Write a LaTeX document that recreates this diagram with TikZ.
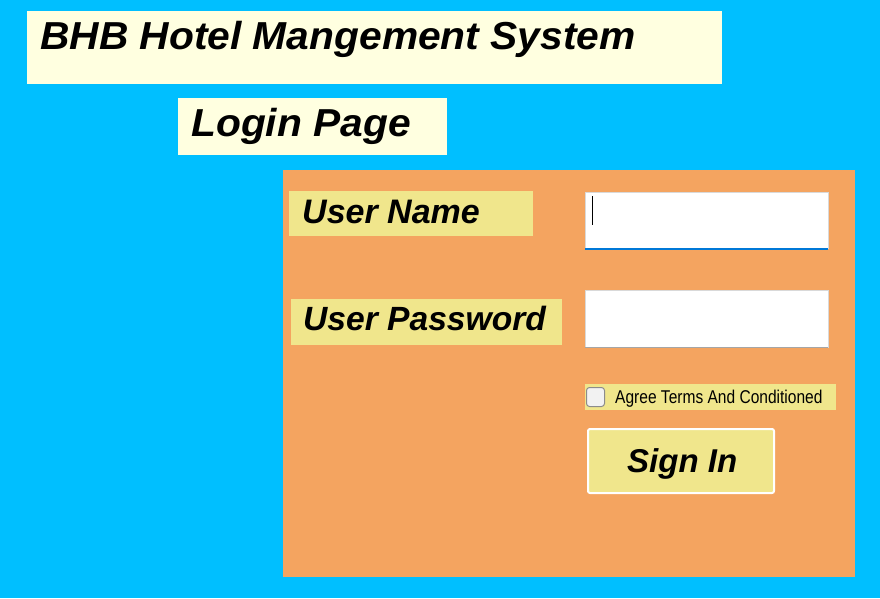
\documentclass[tikz,border=0pt]{standalone}
\usepackage{fontspec}
\setmainfont{Liberation Sans}
\newfontfamily\narrowfont[FakeStretch=0.84]{Liberation Sans}
\newfontfamily\widefont[FakeStretch=1.045]{Liberation Sans}
\definecolor{windowblue}{HTML}{00BFFF}
\definecolor{panelsand}{HTML}{F4A460}
\definecolor{labelkhaki}{HTML}{F0E68C}
\definecolor{titleyellow}{HTML}{FFFFE0}
\definecolor{focusblue}{HTML}{0078D7}

\begin{document}
\begin{tikzpicture}[x=1pt, y=-1pt,
  box/.style={rectangle, anchor=north west, inner sep=0pt},
  heading/.style={anchor=base west, inner sep=0pt, font=\widefont\bfseries\itshape\fontsize{39}{44}\selectfont},
  caption/.style={anchor=base west, inner sep=0pt, font=\bfseries\itshape\fontsize{34}{40}\selectfont},
  field/.style={box, fill=white, draw=black!15, minimum width=243}]
\useasboundingbox (0,0) rectangle (880,598);
\node [box, fill=windowblue, minimum width=880, minimum height=598] (window) at (0,0) {};

% headings
\node [box, fill=titleyellow, minimum width=695, minimum height=73] (title) at (27,11) {};
\node [heading] (titletext) at ([shift={(13,38)}]title.north west) {BHB Hotel Mangement System};
\node [box, fill=titleyellow, minimum width=269, minimum height=57] (login) at (178,98) {};
\node [heading] (logintext) at ([shift={(13,38)}]login.north west) {Login Page};

% form
\node [box, fill=panelsand, minimum width=572, minimum height=407] (form) at (283,170) {};
\node [box, fill=labelkhaki, minimum width=244, minimum height=45] (username) at (289,191) {};
\node [caption] (usernametext) at ([shift={(13,32)}]username.north west) {User Name};
\node [box, fill=labelkhaki, minimum width=271, minimum height=46] (userpassword) at (291,299) {};
\node [caption, font=\bfseries\itshape\fontsize{33.6}{40}\selectfont] (userpasswordtext) at ([shift={(12,31)}]userpassword.north west) {User Password};

\node [field, minimum height=56] (namefield) at (585,192) {};
\draw [focusblue, line width=2pt] ([yshift=-1]namefield.south west) -- ([yshift=-1]namefield.south east);
\draw [black, line width=1pt] ([shift={(7,4)}]namefield.north west) -- ++(0,29);
\node [field, minimum height=57] (passfield) at (585,290) {};
\draw [black!35, line width=1pt] ([yshift=-0.5]passfield.south west) -- ([yshift=-0.5]passfield.south east);

\node [box, fill=labelkhaki, minimum width=251, minimum height=26] (agree) at (585,384) {};
\node [box, fill=black!5, draw=black!45, line width=1pt, rounded corners=3pt, minimum width=18, minimum height=19] (checkbox) at (586,387) {};
\node [anchor=base west, inner sep=0pt, font=\narrowfont\fontsize{18.5}{20}\selectfont] (agreetext) at ([shift={(29,16)}]checkbox.north west) {Agree Terms And Conditioned};

\node [box, fill=labelkhaki, draw=white, line width=2pt, rounded corners=2pt, minimum width=186, minimum height=64] (signin) at (587,428) {};
\node [caption, font=\bfseries\itshape\fontsize{33}{40}\selectfont] (signintext) at ([shift={(40,44)}]signin.north west) {Sign In};

\end{tikzpicture}
\end{document}
